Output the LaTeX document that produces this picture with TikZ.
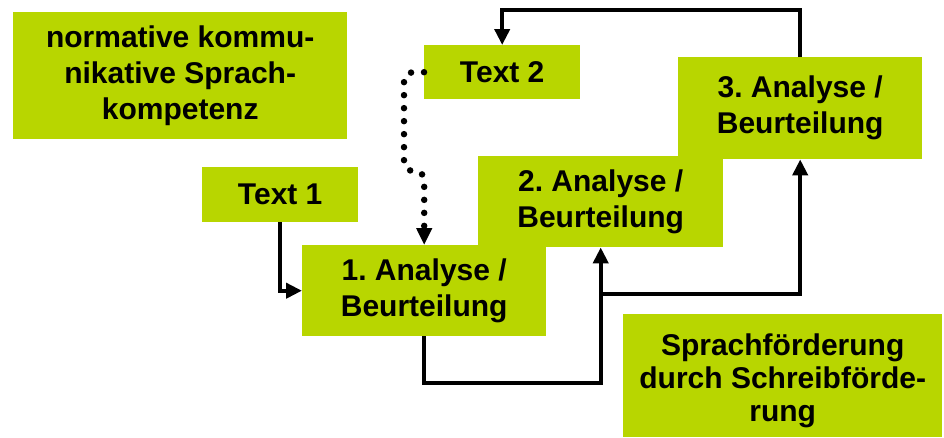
\documentclass[tikz,border=0pt]{standalone}
\usepackage{fontspec}
\setmainfont{Liberation Sans}
\frenchspacing
\usetikzlibrary{arrows.meta,calc}
\definecolor{boxgreen}{RGB}{184,214,0}
\begin{document}
\begin{tikzpicture}[x=1pt,y=-1pt,
  gbox/.style={fill=boxgreen, draw=none, inner sep=0pt, anchor=north west, align=center,
    font=\bfseries\fontsize{30}{36}\selectfont},
  arr/.style={line width=4pt, -{Triangle[width=15pt,length=16pt]}},
  dotarr/.style={line width=6.5pt, line cap=round, dash pattern=on 0pt off 13pt, rounded corners=9pt,
    -{Triangle[width=15pt,length=17pt]}}]
\useasboundingbox (0,0) rectangle (944,437);
\node[gbox, minimum width=334pt, minimum height=127pt] (norm) at (13,12) {normative kommu-\\nikative Sprach-\\kompetenz};
\node[gbox, minimum width=156pt, minimum height=54pt] (t2) at (424,45) {Text 2};
\node[gbox, minimum width=244pt, minimum height=102pt] (b3) at (678,57) {3. Analyse /\\Beurteilung};
\node[gbox, minimum width=245pt, minimum height=91pt] (b2) at (478,156) {2. Analyse /\\Beurteilung};
\node[gbox, minimum width=156pt, minimum height=55pt] (t1) at (202,167) {Text 1};
\node[gbox, minimum width=244pt, minimum height=91pt] (b1) at (302,245) {1. Analyse /\\Beurteilung};
\node[gbox, minimum width=319pt, minimum height=123pt] (sf) at (623,314) {};
\node[inner sep=0pt, align=center, font=\bfseries\fontsize{30}{33}\selectfont] (sft) at ($(sf.center)+(0,5)$) {Sprachförderung\\durch Schreibförde-\\rung};
% connectors
\draw[arr] (t1.south) |- (b1.west);
\coordinate (dA) at ($(t2.west)+(-20,0)$);
\coordinate (dB) at ($(b1.north)+(0,-74)$);
\draw[dotarr] (t2.west) -- (dA) |- (dB) -- (b1.north);
\coordinate (c1) at ($(b1.south)+(0,47)$);
\draw[arr] (b1.south) -- (c1) -| (b2.south);
\coordinate (c2) at ($(b2.south)+(0,47)$);
\draw[arr] (c2) -| (b3.south);
\coordinate (c3) at ($(b3.north)+(0,-47)$);
\draw[arr] (b3.north) -- (c3) -| (t2.north);
\end{tikzpicture}
\end{document}
